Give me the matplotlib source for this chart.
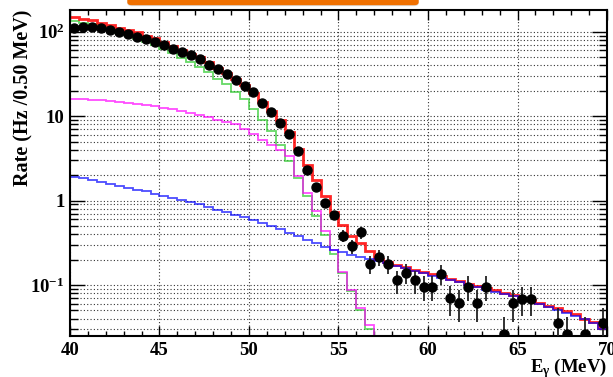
import numpy as np
import matplotlib
matplotlib.use("Agg")
import matplotlib.pyplot as plt
from matplotlib.patches import FancyBboxPatch
from matplotlib.ticker import FixedLocator, FixedFormatter, MultipleLocator, NullFormatter

#%% Data (rate per 0.5 MeV bin, 40-70 MeV)
bin_edges = np.arange(40.0, 70.01, 0.5)
bin_centers = bin_edges[:-1] + 0.25

nan = np.nan
data_rate = [112, 114, 114, 110, 105, 100, 94, 87.5, 81, 76,
             69.5, 63, 57.4, 52.5, 47.1, 40.3, 36.5, 31.2, 26.7, 22.9,
             19.1, 14.4, 11.1, 8.2, 6.07, 3.89, 2.33, 1.44, 0.94, 0.67,
             0.385, 0.287, 0.42, 0.179, 0.212, 0.179, 0.113, 0.14, 0.113, 0.095,
             0.095, 0.136, 0.070, 0.061, 0.095, 0.061, 0.095, nan, 0.0262, 0.061,
             0.069, 0.069, nan, nan, 0.035, 0.0262, nan, 0.0262, nan, 0.035]
data_err = [1.07, 1.08, 1.08, 1.06, 1.03, 1.01, 0.98, 0.94, 0.91, 0.88,
            0.84, 0.80, 0.77, 0.73, 0.69, 0.64, 0.61, 0.56, 0.52, 0.48,
            0.44, 0.38, 0.34, 0.29, 0.25, 0.20, 0.15, 0.12, 0.098, 0.083,
            0.063, 0.054, 0.065, 0.043, 0.046, 0.043, 0.034, 0.038, 0.034, 0.031,
            0.031, 0.037, 0.027, 0.025, 0.031, 0.025, 0.031, 0, 0.016, 0.025,
            0.026, 0.026, 0, 0, 0.019, 0.016, 0, 0.016, 0, 0.019]

total_mc = [150, 143, 136, 128, 120, 112, 105, 98, 90, 83,
            75, 68, 61, 55, 49.5, 43.5, 37.5, 32.5, 27.8, 23.4,
            18.8, 14.8, 11.5, 8.9, 6.5, 4.05, 2.67, 1.73, 1.12, 0.73,
            0.52, 0.385, 0.315, 0.255, 0.205, 0.185, 0.172, 0.162, 0.152, 0.143,
            0.134, 0.126, 0.118, 0.110, 0.103, 0.097, 0.091, 0.086, 0.081, 0.076,
            0.071, 0.066, 0.061, 0.057, 0.053, 0.049, 0.045, 0.040, 0.036, 0.031]
green_mc = [134, 128, 122, 114, 105, 97.5, 90.6, 82.8, 76.3, 69,
            62, 55.5, 49.3, 43.5, 38.5, 33.3, 27.7, 23.8, 19.3, 15.8,
            12.0, 9.1, 6.6, 4.5, 2.9, 1.86, 1.12, 0.652, 0.388, 0.233,
            0.139, 0.084, 0.051, 0.030, 0, 0, 0, 0, 0, 0,
            0, 0, 0, 0, 0, 0, 0, 0, 0, 0,
            0, 0, 0, 0, 0, 0, 0, 0, 0, 0]
magenta_mc = [16.1, 15.9, 15.6, 15.3, 15.0, 14.6, 14.3, 14.0, 13.6, 13.0,
              12.5, 12.0, 11.5, 11.0, 10.4, 9.8, 9.1, 8.6, 7.96, 6.96,
              6.06, 5.2, 4.5, 4.0, 3.4, 1.94, 1.23, 0.747, 0.432, 0.262,
              0.143, 0.088, 0.054, 0.034, 0, 0, 0, 0, 0, 0,
              0, 0, 0, 0, 0, 0, 0, 0, 0, 0,
              0, 0, 0, 0, 0, 0, 0, 0, 0, 0]
blue_mc = [1.91, 1.84, 1.76, 1.67, 1.58, 1.50, 1.42, 1.35, 1.28, 1.21,
           1.14, 1.07, 1.01, 0.955, 0.90, 0.84, 0.78, 0.725, 0.68, 0.635,
           0.59, 0.545, 0.50, 0.455, 0.415, 0.375, 0.34, 0.31, 0.285, 0.262,
           0.245, 0.228, 0.215, 0.203, 0.192, 0.18, 0.168, 0.157, 0.147, 0.137,
           0.128, 0.121, 0.114, 0.107, 0.100, 0.094, 0.088, 0.083, 0.078, 0.074,
           0.069, 0.064, 0.059, 0.055, 0.051, 0.047, 0.043, 0.039, 0.035, 0.030]

ymin, ymax = 0.0252, 183

#%% Fonts
plt.rcParams['font.family'] = ['Liberation Serif', 'DejaVu Serif']
plt.rcParams['font.weight'] = 'bold'
plt.rcParams['mathtext.fontset'] = 'custom'
plt.rcParams['mathtext.rm'] = 'Liberation Serif:bold'
plt.rcParams['mathtext.it'] = 'Liberation Serif:bold:italic'
plt.rcParams['mathtext.bf'] = 'Liberation Serif:bold'

#%% Figure
fig = plt.figure(figsize=(6.13, 3.77), dpi=100)
ax = fig.add_axes([70 / 613, 1 - 335.5 / 377, 537 / 613, 326 / 377])

def floor_at(vals):
    return np.clip(np.array(vals, dtype=float), ymin, None)

ax.stairs(floor_at(green_mc), bin_edges, baseline=None, color='#33cc33', lw=1.3, alpha=0.75)
ax.stairs(floor_at(magenta_mc), bin_edges, baseline=None, color='#ff00ff', lw=1.3, alpha=0.7)
ax.stairs(floor_at(total_mc), bin_edges, baseline=None, color='#ff0000', lw=2.0, alpha=0.85)
ax.stairs(floor_at(blue_mc), bin_edges, baseline=None, color='#0000ff', lw=1.3, alpha=0.7)

ax.errorbar(bin_centers, data_rate, yerr=data_err, fmt='o', color='black', ms=6.5,
            ecolor='#222222', elinewidth=1.3, capsize=0, zorder=5)

ax.set_yscale('log')
ax.set_xlim(40, 70)
ax.set_ylim(ymin, ymax)

# ticks
ax.xaxis.set_major_locator(MultipleLocator(5))
ax.xaxis.set_minor_locator(MultipleLocator(1))
major_y = [0.1, 1, 10, 100]
minor_y = [m * 10.0 ** e for e in range(-2, 3) for m in range(2, 10)]
ax.yaxis.set_major_locator(FixedLocator(major_y))
ax.yaxis.set_major_formatter(FixedFormatter([r'$10^{-1}$', '1', '10', r'$10^{2}$']))
ax.yaxis.set_minor_locator(FixedLocator(minor_y))
ax.yaxis.set_minor_formatter(NullFormatter())

ax.tick_params(axis='both', which='both', direction='in', top=True, right=True,
               labelsize=13.5, width=1.0, color='black')
ax.tick_params(axis='x', which='major', length=7, pad=5)
ax.tick_params(axis='x', which='minor', length=3.5)
ax.tick_params(axis='y', which='major', length=11, pad=4)
ax.tick_params(axis='y', which='minor', length=5.5)

ax.grid(True, axis='y', which='both', ls=(0, (1, 2)), color='#333333', lw=0.8)
ax.grid(True, axis='x', which='major', ls=(0, (1, 2)), color='#333333', lw=0.8)
ax.set_axisbelow(True)
for s in ax.spines.values():
    s.set_linewidth(1.5)

ax.set_ylabel('Rate (Hz /0.50 MeV)', fontsize=14.5, fontweight='bold', loc='top')
ax.yaxis.set_label_coords(-0.068, 1.0)
ax.set_xlabel(r'E$_{\mathrm{γ}}$ (MeV)', fontsize=13.5, fontweight='bold', loc='right')
ax.xaxis.set_label_coords(1.0, -0.064)

# orange banner cut at the top of the frame
fig.patches.append(FancyBboxPatch((128 / 613, 1 - 5.5 / 377), 290 / 613, 0.05,
                                  boxstyle='round,pad=0,rounding_size=0.006',
                                  transform=fig.transFigure, color='#d0d0d0',
                                  alpha=0.6, zorder=0))
fig.patches.append(FancyBboxPatch((128 / 613, 1 - 4.5 / 377), 290 / 613, 0.05,
                                  boxstyle='round,pad=0,rounding_size=0.006',
                                  transform=fig.transFigure, color='#f07000', zorder=1))

fig.savefig('out.png', dpi=100)
